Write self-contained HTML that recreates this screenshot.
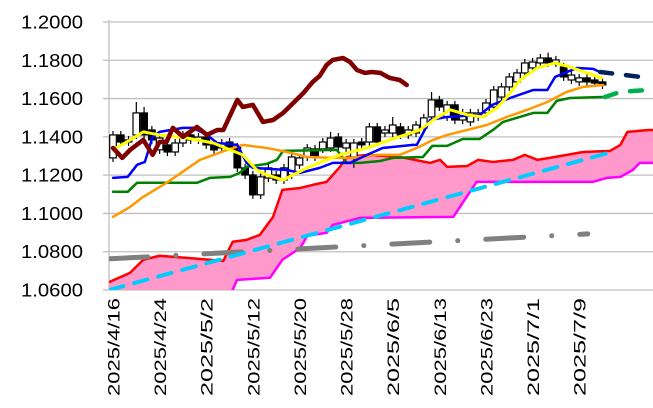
<!DOCTYPE html>
<html><head><meta charset="utf-8"><style>
html,body{margin:0;padding:0;background:#fff;}
svg{display:block;font-family:"Liberation Sans","Noto Sans CJK JP",sans-serif;}
</style></head><body>
<svg id="chart" width="653" height="408" viewBox="0 0 653 408" xmlns="http://www.w3.org/2000/svg">
<defs><clipPath id="plotclip"><rect x="109" y="20" width="544" height="270"/></clipPath></defs>
<g id="grid"></g>
<g id="ylabels"></g>
<g id="xlabels"></g>
<g id="plot" clip-path="url(#plotclip)"></g>
</svg>
<script>
const yTicks = [1.2000,1.1800,1.1600,1.1400,1.1200,1.1000,1.0800,1.0600];
const xTickIdx = [0,6,12,18,24,30,36,42,48,54,60];
const xTickLabels = ["2025/4/16","2025/4/24","2025/5/2","2025/5/12","2025/5/20","2025/5/28","2025/6/5","2025/6/13","2025/6/23","2025/7/1","2025/7/9"];

const opens = [1.1290,1.1410,1.1373,1.1410,1.1525,1.1436,1.1332,1.1358,1.1321,1.1368,1.1410,1.1384,1.1399,1.1358,1.1342,1.1373,1.1347,1.1238,1.1201,1.1097,1.1185,1.1201,1.1175,1.1201,1.1253,1.1295,1.1337,1.1337,1.1342,1.1399,1.1342,1.1295,1.1373,1.1373,1.1452,1.1420,1.1420,1.1452,1.1410,1.1420,1.1446,1.1504,1.1593,1.1504,1.1567,1.1488,1.1478,1.1504,1.1525,1.1556,1.1608,1.1661,1.1687,1.1734,1.1760,1.1786,1.1812,1.1786,1.1765,1.1697,1.1687,1.1708,1.1697,1.1687];
const closes = [1.1410,1.1373,1.1384,1.1525,1.1410,1.1384,1.1394,1.1321,1.1368,1.1410,1.1384,1.1399,1.1358,1.1332,1.1368,1.1347,1.1238,1.1201,1.1097,1.1191,1.1238,1.1175,1.1238,1.1295,1.1290,1.1342,1.1295,1.1373,1.1394,1.1347,1.1368,1.1368,1.1358,1.1452,1.1373,1.1436,1.1462,1.1410,1.1436,1.1462,1.1499,1.1593,1.1556,1.1567,1.1488,1.1525,1.1525,1.1525,1.1577,1.1645,1.1661,1.1713,1.1734,1.1786,1.1791,1.1812,1.1786,1.1802,1.1713,1.1723,1.1708,1.1687,1.1681,1.1671];
const highs = [1.1431,1.1431,1.1405,1.1582,1.1556,1.1457,1.1415,1.1379,1.1389,1.1431,1.1431,1.1420,1.1420,1.1379,1.1389,1.1394,1.1368,1.1259,1.1222,1.1212,1.1259,1.1222,1.1259,1.1316,1.1311,1.1363,1.1358,1.1394,1.1426,1.1420,1.1389,1.1389,1.1394,1.1473,1.1473,1.1457,1.1504,1.1473,1.1457,1.1483,1.1520,1.1634,1.1614,1.1588,1.1588,1.1546,1.1546,1.1546,1.1598,1.1666,1.1682,1.1734,1.1755,1.1807,1.1812,1.1833,1.1840,1.1823,1.1786,1.1744,1.1729,1.1729,1.1718,1.1708];
const lows = [1.1269,1.1352,1.1352,1.1389,1.1389,1.1363,1.1311,1.1300,1.1300,1.1347,1.1363,1.1363,1.1337,1.1311,1.1321,1.1326,1.1217,1.1180,1.1076,1.1076,1.1164,1.1154,1.1154,1.1180,1.1232,1.1274,1.1274,1.1316,1.1321,1.1326,1.1321,1.1238,1.1337,1.1352,1.1352,1.1399,1.1399,1.1389,1.1389,1.1399,1.1425,1.1483,1.1535,1.1483,1.1467,1.1467,1.1457,1.1483,1.1504,1.1535,1.1587,1.1640,1.1666,1.1713,1.1739,1.1765,1.1765,1.1765,1.1692,1.1676,1.1666,1.1666,1.1660,1.1650];

const spanAIdx = [-0.4,2.2,3.9,6.0,9.5,14.2,15.4,17.2,18.9,20.6,21.8,24.1,25.7,27.5,29.2,30.1,32.7,36.9,40.8,42.1,43.0,45.6,47.0,48.9,51.5,53.0,54.6,56.2,58.4,60.5,64.0,65.3,66.2,68.9,70];
const spanAVal = [1.0643,1.0690,1.0758,1.0779,1.0768,1.0752,1.0852,1.0862,1.0888,1.0982,1.1123,1.1133,1.1149,1.1165,1.1243,1.1295,1.1306,1.1295,1.1264,1.1280,1.1243,1.1248,1.1280,1.1269,1.1280,1.1306,1.1280,1.1290,1.1306,1.1321,1.1327,1.1358,1.1426,1.1436,1.1436];
const spanBIdx = [-1,14.4,15.4,15.96,20.2,21.8,24.1,25.0,27.5,28.3,31.8,43.8,46.8,61.8,63.6,65.3,66.9,67.8,69.1,70];
const spanBVal = [1.0500,1.0549,1.0601,1.0653,1.0664,1.0758,1.0820,1.0883,1.0899,1.0940,1.0977,1.0982,1.1165,1.1165,1.1186,1.1191,1.1227,1.1264,1.1264,1.1264];

const blueIdx = [0,1.9,3.1,4.1,5.1,6.0,9.0,10.3,12.1,13.4,16.0,17.2,18.0,22.4,24.1,26.6,28.3,30.5,32.7,34.7,38.6,39.1,40.8,43.0,47.2,48.8,51.1,54.1,55.9,56.9,59.7,61.8,62.9];
const blueVal = [1.1186,1.1191,1.1254,1.1269,1.1400,1.1426,1.1447,1.1447,1.1410,1.1368,1.1358,1.1264,1.1238,1.1227,1.1212,1.1238,1.1264,1.1264,1.1306,1.1342,1.1358,1.1358,1.1488,1.1504,1.1515,1.1567,1.1603,1.1645,1.1645,1.1713,1.1760,1.1755,1.1734];
const greenIdx = [0,1.9,3.1,10.8,12.5,15.1,16.3,17.2,19.8,21.1,21.9,28.8,30.1,31.8,34.4,36.0,39.9,41.1,43.0,45.0,47.2,48.9,50.2,54.1,55.9,57.1,58.8,62.9];
const greenVal = [1.1113,1.1113,1.1160,1.1160,1.1186,1.1191,1.1212,1.1243,1.1259,1.1280,1.1327,1.1332,1.1264,1.1264,1.1274,1.1290,1.1295,1.1353,1.1353,1.1389,1.1389,1.1436,1.1478,1.1525,1.1525,1.1588,1.1603,1.1608];
const orangeIdx = [0,2.2,3.9,6.9,11.2,14.7,16.7,19.8,22.4,25.0,28.3,30.9,34.0,36.9,39.1,41.2,43.0,45.6,48.1,50.7,53.3,55.9,58.4,60.5,63.1];
const orangeVal = [1.0982,1.1034,1.1087,1.1160,1.1280,1.1332,1.1358,1.1342,1.1321,1.1295,1.1290,1.1290,1.1306,1.1306,1.1342,1.1384,1.1410,1.1436,1.1462,1.1504,1.1541,1.1582,1.1635,1.1661,1.1671];
const yellowIdx = [0,1.8,3.9,6.0,9.5,12.9,15.1,16.7,18.5,19.8,21.9,23.7,25.0,27.5,29.2,32.7,35.6,39.5,41.2,43.4,45.6,47.6,49.4,50.7,52.4,54.6,56.9,58.8,61.0,62.9];
const yellowVal = [1.1332,1.1374,1.1426,1.1410,1.1394,1.1368,1.1332,1.1306,1.1227,1.1201,1.1175,1.1212,1.1238,1.1280,1.1306,1.1342,1.1384,1.1436,1.1488,1.1541,1.1515,1.1504,1.1551,1.1608,1.1697,1.1760,1.1786,1.1765,1.1734,1.1708];
const chikouIdx = [0,1.2,2.2,3.9,5.1,6.0,6.9,7.7,9.0,10.8,12.1,13.4,14.2,16.0,16.7,18.0,19.3,20.6,21.9,23.2,24.5,25.7,26.6,27.5,28.3,29.6,30.5,31.4,32.4,33.3,34.4,35.6,36.9,37.8];
const chikouVal = [1.1342,1.1290,1.1332,1.1384,1.1306,1.1374,1.1374,1.1447,1.1400,1.1452,1.1410,1.1436,1.1436,1.1593,1.1556,1.1567,1.1478,1.1488,1.1525,1.1577,1.1629,1.1687,1.1718,1.1776,1.1802,1.1812,1.1791,1.1749,1.1734,1.1739,1.1734,1.1708,1.1697,1.1671];
const cyanIdx = [-0.4,64.2];
const cyanVal = [1.0601,1.1321];
const grayIdx = [-0.4,61.1];
const grayVal = [1.0763,1.0893];
const navyIdx = [62.7,68.9];
const navyVal = [1.1739,1.1708];
const greenProjIdx = [63.3,65.3,68.9];
const greenProjVal = [1.1608,1.1635,1.1645];

const NS = "http://www.w3.org/2000/svg";
const X0 = 113, DX = 7.77, YTOP = 22, YBOT = 290, VMAX = 1.2, VMIN = 1.06;
function xs(i){ return X0 + i*DX; }
function ys(v){ return YTOP + (VMAX - v)/(VMAX - VMIN)*(YBOT - YTOP); }
function mk(tag, attrs, parent){ const e=document.createElementNS(NS,tag); for(const k in attrs) e.setAttribute(k,attrs[k]); parent.appendChild(e); return e; }

const grid = document.getElementById('grid');
const yl = document.getElementById('ylabels');
yTicks.forEach(t=>{
  const y = ys(t);
  const gl = mk('line',{x1:103,x2:653,y1:y,y2:y,stroke:'#bfbfbf','stroke-width':1.3},grid);
  
  
  const tx = mk('text',{x:83,y:y+6.5,'text-anchor':'end','font-size':18,fill:'#000',textLength:62,lengthAdjust:'spacingAndGlyphs'},yl);
  tx.textContent = t.toFixed(4);
  
  
});
const ax = mk('line',{x1:109,x2:109,y1:20,y2:290,stroke:'#bfbfbf','stroke-width':1.3},grid);



const xl = document.getElementById('xlabels');
xTickIdx.forEach((ix,k)=>{
  const x = xs(ix);
  const tx = mk('text',{transform:`translate(${x+6.5},298) rotate(-90)`,'text-anchor':'end','font-size':17,fill:'#000',textLength:98,lengthAdjust:'spacingAndGlyphs'},xl);
  tx.textContent = xTickLabels[k];
  
  
});

const plot = document.getElementById('plot');
let d = '';
spanAIdx.forEach((ix,k)=>{ d += (k?'L':'M')+xs(ix)+','+ys(spanAVal[k]); });
for(let k=spanBIdx.length-1;k>=0;k--){ d += 'L'+xs(spanBIdx[k])+','+ys(spanBVal[k]); }
d += 'Z';
const cloud = mk('path',{d:d,fill:'#ff99cc',stroke:'none'},plot);



function line(idx, val, color, w, name, dash){
  const pts = idx.map((ix,k)=>xs(ix)+','+ys(val[k])).join(' ');
  const a = {points:pts,fill:'none',stroke:color,'stroke-width':w,'stroke-linejoin':'round','stroke-linecap':'round'};
  if(dash) a['stroke-dasharray']=dash;
  const p = mk('polyline',a,plot);
  
  
  return p;
}
line(spanBIdx, spanBVal, '#ff00ff', 2.5, 'senkou-span-b');
line(spanAIdx, spanAVal, '#ff0000', 2.5, 'senkou-span-a');
line(grayIdx, grayVal, '#808080', 5, 'gray-trendline', '38 28 0.1 28');
line(cyanIdx, cyanVal, '#00ccff', 4, 'cyan-trendline', '14 11');

const cg = mk('g',{},plot);


closes.forEach((c,i)=>{
  const o = opens[i], x = xs(i);
  const wk = mk('line',{x1:x,x2:x,y1:ys(highs[i]),y2:ys(lows[i]),stroke:'#000','stroke-width':1.2},cg);
  
  
  const top = ys(Math.max(o,c)), bot = ys(Math.min(o,c));
  const r = mk('rect',{x:x-3.3,y:top,width:6.6,height:Math.max(bot-top,1),fill:c>=o?'#fff':'#000',stroke:'#000','stroke-width':1.2},cg);
  
  
});

line(greenIdx, greenVal, '#008000', 2.5, 'kijun-green-line');
line(orangeIdx, orangeVal, '#ff9900', 2.5, 'orange-ma-line');
line(blueIdx, blueVal, '#0000ff', 2.5, 'tenkan-blue-line');
line(yellowIdx, yellowVal, '#ffff00', 3, 'yellow-ma-line');
line(chikouIdx, chikouVal, '#800000', 4.5, 'chikou-span');
line(navyIdx, navyVal, '#002060', 4.5, 'navy-projection', '12 14');
line(greenProjIdx, greenProjVal, '#00b050', 4.5, 'green-projection', '12 14');
</script>
</body></html>
